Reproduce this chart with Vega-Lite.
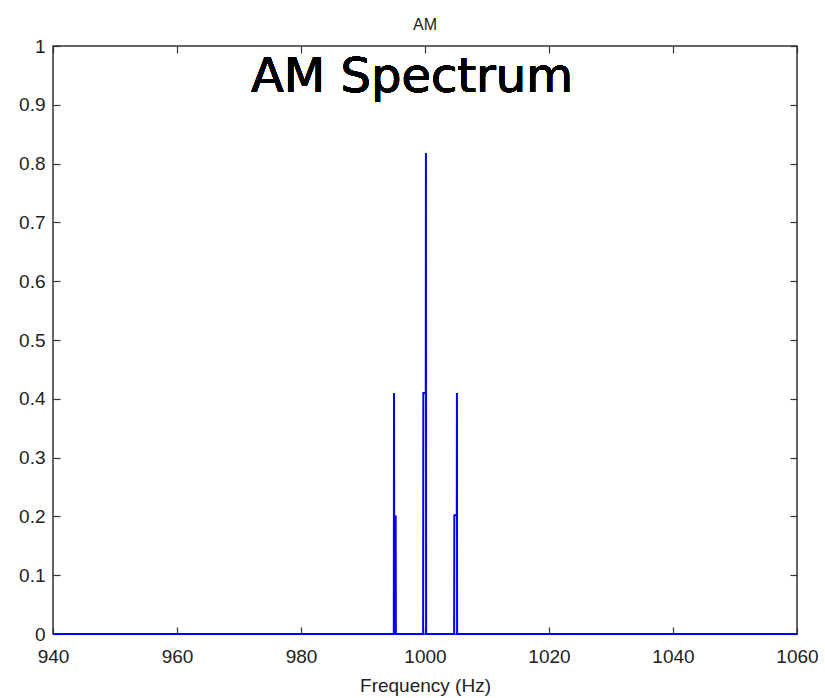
{
  "$schema": "https://vega.github.io/schema/vega-lite/v6.json",
  "width": 744,
  "height": 588,
  "autosize": {"type": "none"},
  "padding": {"left": 53, "top": 46, "right": 28, "bottom": 64},
  "background": "white",
  "title": {"text": "AM", "fontSize": 16, "font": "Liberation Sans", "fontWeight": "normal", "color": "#222", "offset": 4},
  "config": {
    "view": {"stroke": "#333", "strokeWidth": 1.5},
    "axis": {"grid": false, "domain": false, "tickColor": "#333", "tickWidth": 1.2, "tickSize": -7, "labelFont": "Liberation Sans", "labelFontSize": 19, "labelColor": "#222", "titleFont": "Liberation Sans", "titleFontSize": 19, "titleFontWeight": "normal", "titleColor": "#222"}
  },
  "data": {"values": [
    {"f": 940, "a": 0},
    {"f": 994.97, "a": 0},
    {"f": 995.0, "a": 0.41},
    {"f": 995.03, "a": 0.2},
    {"f": 995.27, "a": 0.2},
    {"f": 995.3, "a": 0},
    {"f": 999.7, "a": 0},
    {"f": 999.73, "a": 0.41},
    {"f": 1000.12, "a": 0.41},
    {"f": 1000.15, "a": 0.818},
    {"f": 1000.18, "a": 0},
    {"f": 1004.7, "a": 0},
    {"f": 1004.73, "a": 0.202},
    {"f": 1005.13, "a": 0.202},
    {"f": 1005.15, "a": 0.41},
    {"f": 1005.18, "a": 0},
    {"f": 1060, "a": 0}
  ]},
  "layer": [
    {
      "mark": {"type": "line", "color": "#0000ff", "strokeWidth": 2},
      "encoding": {
        "x": {"field": "f", "type": "quantitative", "scale": {"domain": [940, 1060], "nice": false, "zero": false},
              "axis": {"title": "Frequency (Hz)", "values": [940, 960, 980, 1000, 1020, 1040, 1060], "format": "d", "labelPadding": 20, "titlePadding": 10, "labelFlush": false}},
        "y": {"field": "a", "type": "quantitative", "scale": {"domain": [0, 1], "nice": false},
              "axis": {"title": null, "values": [0, 0.1, 0.2, 0.3, 0.4, 0.5, 0.6, 0.7, 0.8, 0.9, 1], "format": "~g", "labelPadding": 15, "labelFlush": false}}
      }
    },
    {
      "mark": {"type": "text", "text": "AM Spectrum", "font": "DejaVu Sans", "fontSize": 48, "color": "#000", "baseline": "alphabetic", "align": "center"},
      "encoding": {
        "x": {"datum": 997.9, "type": "quantitative", "axis": {"orient": "top", "labels": false, "title": null, "values": [940, 960, 980, 1000, 1020, 1040, 1060]}},
        "y": {"datum": 0.922, "type": "quantitative", "axis": {"orient": "right", "labels": false, "title": null, "values": [0, 0.1, 0.2, 0.3, 0.4, 0.5, 0.6, 0.7, 0.8, 0.9, 1]}}
      }
    }
  ],
  "resolve": {"axis": {"x": "independent", "y": "independent"}}
}
